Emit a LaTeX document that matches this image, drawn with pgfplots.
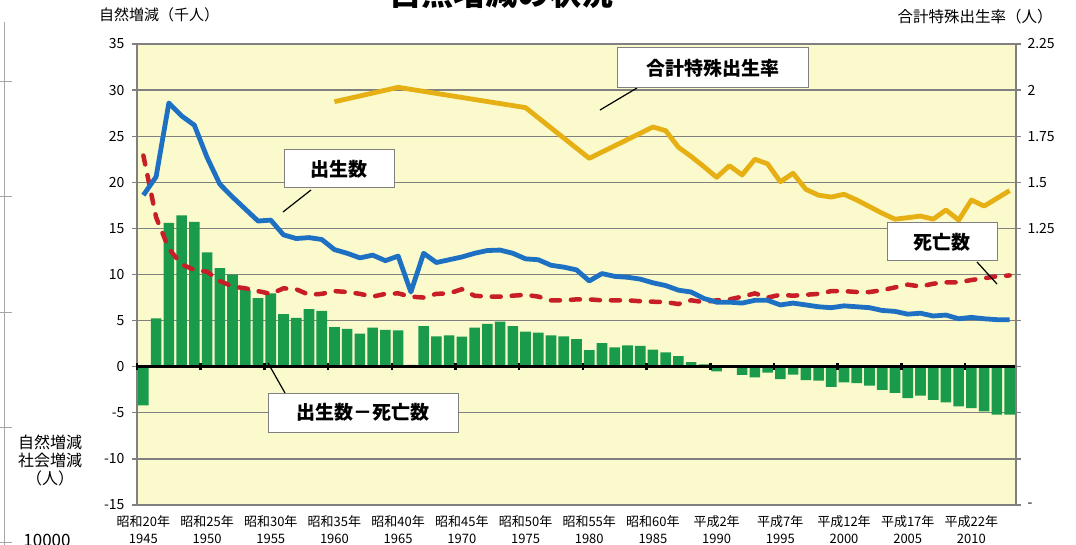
\documentclass[border=0pt]{standalone}
\usepackage{fontspec}
\setmainfont{Noto Sans CJK JP}
\usepackage{pgfplots}
\usepackage{pgfplotstable}
\pgfplotsset{compat=1.18}

\definecolor{plotbg}{RGB}{250,250,204}
\definecolor{gridgray}{RGB}{128,128,128}
\definecolor{birthblue}{RGB}{30,112,195}
\definecolor{deathred}{RGB}{200,30,40}
\definecolor{tfrgold}{RGB}{230,176,20}
\definecolor{bargreen}{RGB}{25,155,75}

\pgfplotstableread{
year births deaths diff
1945 18.6 22.9 -4.2
1946 20.6 16.2 5.25
1947 28.6 12.8 15.6
1948 27.2 11.1 16.4
1949 26.2 10.5 15.7
1950 22.7 10.3 12.4
1951 19.8 9.3 10.7
1952 18.4 8.7 10.0
1953 17.1 8.5 8.3
1954 15.8 8.2 7.45
1955 15.9 7.9 7.95
1956 14.3 8.5 5.7
1957 13.9 8.4 5.3
1958 14.0 7.8 6.25
1959 13.8 7.9 6.05
1960 12.7 8.2 4.3
1961 12.3 8.1 4.1
1962 11.8 7.9 3.6
1963 12.1 7.6 4.25
1964 11.5 7.9 4.0
1965 12.0 7.95 3.95
1966 8.1 7.6 0.2
1967 12.3 7.5 4.4
1968 11.3 7.9 3.3
1969 11.6 7.95 3.4
1970 11.9 8.4 3.25
1971 12.3 7.7 4.25
1972 12.6 7.6 4.65
1973 12.65 7.6 4.9
1974 12.3 7.7 4.4
1975 11.7 7.8 3.8
1976 11.6 7.6 3.7
1977 11.0 7.2 3.4
1978 10.8 7.2 3.3
1979 10.5 7.3 3.0
1980 9.3 7.3 1.8
1981 10.1 7.2 2.55
1982 9.8 7.2 2.1
1983 9.7 7.2 2.3
1984 9.5 7.1 2.25
1985 9.1 7.05 1.85
1986 8.8 7.0 1.55
1987 8.3 6.8 1.15
1988 8.1 7.2 0.5
1989 7.4 7.0 0.25
1990 7.0 7.2 -0.5
1991 7.0 7.3 -0.05
1992 6.9 7.6 -0.9
1993 7.2 7.95 -1.15
1994 7.2 7.5 -0.65
1995 6.7 7.8 -1.35
1996 6.9 7.7 -0.87
1997 6.7 7.8 -1.45
1998 6.5 7.9 -1.5
1999 6.4 8.2 -2.2
2000 6.6 8.2 -1.7
2001 6.5 8.1 -1.77
2002 6.4 8.1 -2.06
2003 6.1 8.3 -2.5
2004 6.0 8.6 -2.85
2005 5.7 8.9 -3.4
2006 5.8 8.7 -3.15
2007 5.5 9.0 -3.6
2008 5.6 9.15 -3.87
2009 5.2 9.15 -4.3
2010 5.35 9.4 -4.5
2011 5.2 9.6 -4.85
2012 5.1 9.8 -5.2
2013 5.1 9.9 -5.2
}\natdata

\pgfplotstableread{
year rate
1960 1.937
1965 2.015
1970 1.96
1975 1.905
1980 1.63
1985 1.80
1986 1.78
1987 1.69
1988 1.64
1989 1.585
1990 1.527
1991 1.59
1992 1.54
1993 1.625
1994 1.60
1995 1.503
1996 1.549
1997 1.462
1998 1.43
1999 1.42
2000 1.435
2001 1.404
2002 1.368
2003 1.332
2004 1.30
2005 1.308
2006 1.317
2007 1.30
2008 1.35
2009 1.295
2010 1.404
2011 1.371
2012 1.413
2013 1.455
}\tfrdata

\begin{document}
\begin{tikzpicture}[x=1pt,y=1pt]
\begin{axis}[
  at={(137pt,-505pt)}, anchor=south west,
  width=879pt, height=461pt, scale only axis,
  xmin=1944.5, xmax=2013.5,
  ymin=-15, ymax=35,
  ytick={-15,-10,...,35},
  xtick={1945,1950,...,2010},
  xticklabels={昭和20年\\1945,昭和25年\\1950,昭和30年\\1955,昭和35年\\1960,昭和40年\\1965,昭和45年\\1970,昭和50年\\1975,昭和55年\\1980,昭和60年\\1985,平成2年\\1990,平成7年\\1995,平成12年\\2000,平成17年\\2005,平成22年\\2010},
  xticklabel style={font=\fontsize{13}{17}\selectfont, align=center, yshift=-2pt},
  yticklabel style={font=\fontsize{14}{14}\selectfont, xshift=-4pt},
  /pgf/number format/assume math mode=true,
  xtick style={draw=none},
  ytick style={gridgray, line width=1.3pt},
  tick align=outside,
  major tick length=5pt,
  ymajorgrids,
  major grid style={gridgray, line width=1.3pt},
  axis line style={gridgray, line width=1.3pt},
  axis background/.style={fill=plotbg},
]
\addplot[ybar, bar width=10.6pt, fill=bargreen, draw=none] table[x=year,y=diff]{\natdata};
\addplot[black, line width=3pt] coordinates {(1944.5,0) (2013.5,0)};
\addplot[only marks, mark=|, mark size=3.5pt, mark options={black, line width=2.5pt}] coordinates {(1944.5,0) (1949.5,0) (1954.5,0) (1959.5,0) (1964.5,0) (1969.5,0) (1974.5,0) (1979.5,0) (1984.5,0) (1989.5,0) (1994.5,0) (1999.5,0) (2004.5,0) (2009.5,0)};
\addplot[deathred, line width=4.5pt, line cap=round, dash pattern=on 9pt off 11pt] table[x=year,y=deaths]{\natdata};
\addplot[birthblue, line width=4.8pt, line join=round] table[x=year,y=births]{\natdata};
\end{axis}
\begin{axis}[
  at={(137pt,-505pt)}, anchor=south west,
  width=879pt, height=461pt, scale only axis,
  xmin=1944.5, xmax=2013.5,
  ymin=-0.25, ymax=2.25,
  hide x axis,
  axis y line*=right,
  ytick={1.25,1.5,1.75,2,2.25},
  extra y ticks={-0.25},
  extra y tick labels={{-}},
  yticklabel style={font=\fontsize{14}{14}\selectfont, xshift=8pt},
  /pgf/number format/assume math mode=true,
  ytick style={draw=none},
  extra y tick style={ytick style={draw=none}},
  axis line style={gridgray, line width=1.3pt},
]
\addplot[tfrgold, line width=4.8pt, line join=round] table[x=year,y=rate]{\tfrdata};
\end{axis}

% title (cut at top, as in the reference)
\node[font=\fontsize{32}{32}\bfseries\selectfont, anchor=base] at (501,-6) {自然増減の状況};
% axis titles
\node[font=\fontsize{15}{15}\selectfont] at (159,-15) {自然増減（千人）};
\node[font=\fontsize{15.5}{15.5}\selectfont] at (975,-17) {合計特殊出生率（人）};

% callouts
\tikzset{callout/.style={draw=gridgray, line width=1pt, fill=white, inner sep=0pt, font=\fontsize{19}{19}\bfseries\selectfont}}
\draw[black, line width=1.2pt] (311,-190) -- (283,-212);
\node[callout, minimum width=110pt, minimum height=38pt] at (339,-169) {出生数};
\draw[black, line width=1.2pt] (637,-88) -- (600,-110);
\node[callout, minimum width=191pt, minimum height=40pt] at (712.5,-68) {合計特殊出生率};
\draw[black, line width=1.2pt] (977,-262) -- (997,-284);
\node[callout, minimum width=110pt, minimum height=38pt] at (942,-242) {死亡数};
\draw[black, line width=1.2pt] (285,-393) -- (268,-363);
\node[callout, minimum width=190pt, minimum height=39pt] at (363,-412.5) {出生数－死亡数};

% left margin remnants
\draw[gray!70, line width=1pt] (4,-22) -- (4,-545);
\foreach \yy in {82,197,312,427,542} \draw[gray!70, line width=1pt] (0,-\yy) -- (12,-\yy);
\node[font=\fontsize{16}{18}\selectfont, align=center] at (50,-460) {自然増減\\社会増減\\（人）};
\node[font=\fontsize{17}{17}\selectfont] at (47,-540) {10000};

\pgfresetboundingbox
\useasboundingbox (0,0) rectangle (1076,-545);
\end{tikzpicture}
\end{document}
